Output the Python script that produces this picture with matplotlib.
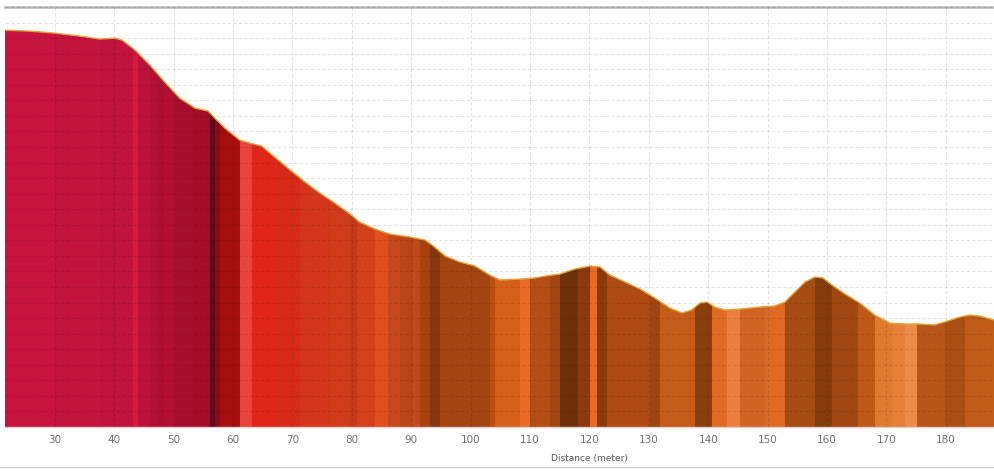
import numpy as np
import matplotlib.pyplot as plt
from matplotlib.patches import Polygon

# ── Data ──────────────────────────────────────────────────────────────
# elevation profile (distance in m, elevation in grid units)
distance = [21.6, 25.8, 30.0, 34.2, 37.6, 40.1, 41.3, 43.5, 46.0, 48.5, 51.0,
            53.6, 55.8, 56.9, 58.6, 61.1, 62.8, 64.8, 67.0, 69.6, 72.1, 74.6,
            77.1, 79.7, 81.3, 83.9, 86.4, 89.8, 92.3, 93.5, 95.7, 98.2, 100.7,
            103.2, 104.9, 108.3, 110.8, 112.5, 115.0, 117.5, 120.1, 121.8,
            123.4, 126.0, 128.5, 131.0, 133.5, 135.6, 137.2, 138.6, 139.8,
            141.1, 142.8, 145.3, 148.7, 151.2, 152.9, 154.6, 156.3, 157.9,
            159.3, 160.8, 163.0, 165.5, 168.0, 170.6, 173.1, 175.6, 178.1,
            179.8, 182.4, 184.0, 185.7, 188.1]
elevation = [25.51, 25.45, 25.32, 25.13, 24.94, 25.0, 24.87, 24.23, 23.26,
             22.17, 21.14, 20.5, 20.31, 19.86, 19.22, 18.44, 18.25, 18.06,
             17.35, 16.52, 15.75, 15.04, 14.4, 13.69, 13.17, 12.72, 12.4,
             12.21, 12.02, 11.7, 10.99, 10.6, 10.35, 9.77, 9.45, 9.51, 9.58,
             9.7, 9.83, 10.15, 10.35, 10.28, 9.77, 9.32, 8.87, 8.29, 7.65,
             7.33, 7.52, 7.97, 8.03, 7.71, 7.52, 7.58, 7.71, 7.78, 8.03, 8.68,
             9.32, 9.64, 9.58, 9.13, 8.55, 7.97, 7.2, 6.68, 6.62, 6.62, 6.56,
             6.75, 7.07, 7.2, 7.13, 6.88]

# colour bands along the profile
band_edges = [21.6, 30.0, 37.6, 43.1, 44.0, 46.0, 47.2, 48.5, 50.2, 53.1,
              56.1, 56.9, 57.8, 61.1, 63.2, 67.0, 71.3, 76.3, 79.7, 80.8,
              83.9, 86.1, 88.1, 90.3, 91.5, 93.1, 94.8, 103.2, 104.1, 108.3,
              110.0, 113.3, 115.0, 118.1, 120.1, 121.3, 122.9, 130.2, 131.9,
              137.7, 140.6, 143.1, 145.3, 149.5, 150.4, 152.9, 158.0, 160.8,
              165.2, 168.1, 171.1, 173.1, 175.1, 179.8, 183.2, 188.1]
band_colors = ["#c6143f", "#c3143e", "#c0133d", "#dc1840", "#bb123b",
               "#b41036", "#ac0f30", "#b30e33", "#a80f2e", "#a20d27",
               "#5e0818", "#860b1e", "#a5100f", "#e8433b", "#e02519",
               "#d82b17", "#d3361a", "#d03b1a", "#c33b16", "#d3411a",
               "#e0501f", "#c6481a", "#b8461a", "#c04a19", "#a8400f",
               "#853810", "#a34510", "#b84e12", "#d5601a", "#e86a26",
               "#b54e14", "#a34612", "#6e300a", "#8c3a0d", "#ea6a22",
               "#8a3b0e", "#ae4a12", "#9d4512", "#c65c19", "#8a3e0c",
               "#e06a24", "#ea7f40", "#d06420", "#d56c2a", "#e06a24",
               "#a44c12", "#843d0c", "#a14812", "#c05818", "#e07a30",
               "#e6803a", "#eb8c48", "#b85618", "#a85014", "#c05c18"]

xticks = list(range(30, 190, 10))

# ── Figure ────────────────────────────────────────────────────────────
fig = plt.figure(figsize=(9.94, 4.72), dpi=100)
ax = fig.add_axes([5 / 994, 45 / 472, 989 / 994, 420 / 472])

x_min, x_max = distance[0], distance[-1]
y_top = 27.0
ax.set_xlim(x_min, x_max)
ax.set_ylim(0, y_top)

# area under profile used as clip shape for the bands
verts = list(zip(distance, elevation)) + [(x_max, 0), (x_min, 0)]
area = Polygon(verts, closed=True, facecolor="none", edgecolor="none",
               transform=ax.transData)
ax.add_patch(area)

lefts = band_edges[:-1]
widths = np.diff(band_edges)
bars = ax.bar(lefts, y_top, width=widths, align="edge", color=band_colors,
              linewidth=0, zorder=1)
for b in bars:
    b.set_clip_path(area)

ax.plot(distance, elevation, color="#e3a43a", lw=1.0, zorder=3,
        solid_joinstyle="round")

# grid on top, faint dashed
ax.set_xticks(xticks)
ax.set_yticks(np.arange(0, y_top + 0.1, 1.0))
ax.grid(True, color="black", alpha=0.11, lw=0.8, linestyle=(0, (3, 2)),
        zorder=2)
ax.set_axisbelow(False)

ax.tick_params(axis="x", length=0, pad=6, labelsize=7.5, labelcolor="#707070")
ax.tick_params(axis="y", length=0, labelleft=False)

for s in ["left", "right"]:
    ax.spines[s].set_visible(False)
ax.spines["top"].set_color("#b8b8b8")
ax.spines["top"].set_linewidth(1.8)
ax.spines["bottom"].set_color("#e2cccc")
ax.spines["bottom"].set_linewidth(1.0)

fig.text(589 / 994, 1 - 458 / 472, "Distance (meter)", fontsize=6.5,
         color="#555555", ha="center", va="center")

# light rule at the bottom of the figure
fig.add_artist(plt.Line2D([0, 1], [1 - 467 / 472] * 2, color="#cccccc",
                          lw=1.0, transform=fig.transFigure))

fig.savefig("out.png", dpi=100)
plt.close("all")
